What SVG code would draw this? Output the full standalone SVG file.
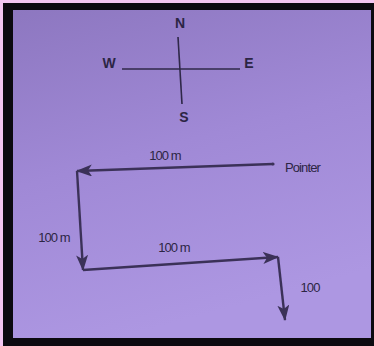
<svg xmlns="http://www.w3.org/2000/svg" width="374" height="346" viewBox="0 0 374 346">
<defs>
<linearGradient id="bg" x1="0" y1="0" x2="0.3" y2="1">
<stop offset="0" stop-color="#8d77c0"/>
<stop offset="0.5" stop-color="#a089d6"/>
<stop offset="1" stop-color="#ad97e2"/>
</linearGradient>
<marker id="ah" viewBox="0 0 16 12" refX="15" refY="6" markerWidth="16" markerHeight="12" markerUnits="userSpaceOnUse" orient="auto">
<path d="M0,0 L16,6 L0,12 L4,6 Z" fill="#3b3158"/>
</marker>
<style>
.t{font-family:"Liberation Sans",Arial,sans-serif;fill:#2c2544;}
.c{font-size:14px;font-weight:bold;}
.l{font-size:13px;letter-spacing:-0.9px;}
.ln{stroke:#3b3158;stroke-width:2.4;fill:none;}
.cl{stroke:#2f2848;stroke-width:1.6;fill:none;}
</style>
</defs>
<rect x="0" y="0" width="374" height="346" fill="#f3c6f1"/>
<rect x="3" y="3" width="371" height="343" fill="#0c0a10"/>
<rect x="13" y="10" width="358" height="328" fill="url(#bg)"/>
<g id="compass">
<line class="cl" x1="122" y1="69" x2="240" y2="69"/>
<line class="cl" x1="178" y1="37" x2="182" y2="104"/>
<text class="t c" x="180" y="28" text-anchor="middle">N</text>
<text class="t c" x="109" y="68" text-anchor="middle">W</text>
<text class="t c" x="249" y="68" text-anchor="middle">E</text>
<text class="t c" x="184" y="122" text-anchor="middle">S</text>
</g>
<g id="connectors">
<line class="ln" x1="273" y1="164" x2="77" y2="171" marker-end="url(#ah)"/>
<line class="ln" x1="77" y1="171" x2="83" y2="270" marker-end="url(#ah)"/>
<line class="ln" x1="83" y1="270" x2="278" y2="257" marker-end="url(#ah)"/>
<line class="ln" x1="278" y1="257" x2="285" y2="320" marker-end="url(#ah)"/>
</g>
<g id="pointer">
<circle cx="273" cy="164" r="1.6" fill="#3b3158"/>
<text class="t l" x="285" y="172">Pointer</text>
</g>
<g id="labels">
<text class="t l" x="165" y="160" text-anchor="middle">100 m</text>
<text class="t l" x="54" y="242" text-anchor="middle">100 m</text>
<text class="t l" x="174" y="252" text-anchor="middle">100 m</text>
<text class="t l" x="310" y="292" text-anchor="middle">100</text>
</g>
</svg>
